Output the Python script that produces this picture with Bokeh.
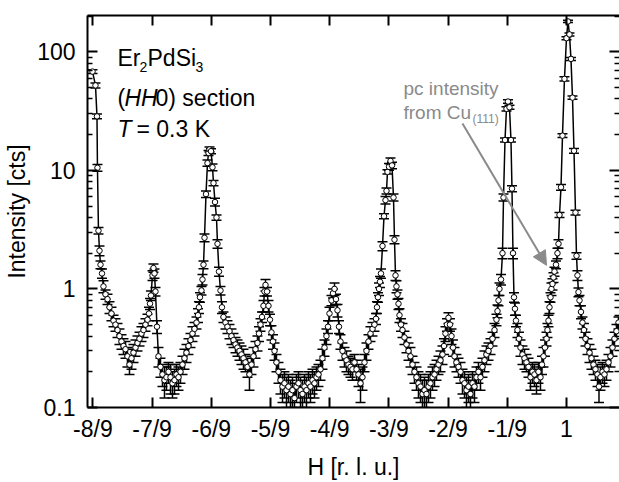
from bokeh.plotting import figure
from bokeh.models import (ColumnDataSource, Whisker, TeeHead, FixedTicker, LinearAxis, LogAxis,
                          CustomJSTickFormatter, Label, Arrow, NormalHead, Range1d)
from bokeh.embed import file_html
from bokeh.resources import INLINE

FONT = "Liberation Sans"
GRAY = "#8a8a8a"

# ---- data: H [r.l.u.], intensity [cts], error [cts] ----
h = [
    -0.8896, -0.8840, -0.8812, -0.8803, -0.8784, -0.8765, -0.8746, -0.8718, -0.8690, -0.8652,
    -0.8615, -0.8577, -0.8540, -0.8502, -0.8465, -0.8427, -0.8390, -0.8352, -0.8315, -0.8277,
    -0.8240, -0.8202, -0.8164, -0.8127, -0.8089, -0.8052, -0.8014, -0.7977, -0.7939, -0.7902,
    -0.7864, -0.7836, -0.7817, -0.7799, -0.7770, -0.7752, -0.7733, -0.7714, -0.7686, -0.7658,
    -0.7620, -0.7583, -0.7545, -0.7508, -0.7470, -0.7432, -0.7395, -0.7357, -0.7320, -0.7282,
    -0.7245, -0.7207, -0.7170, -0.7132, -0.7095, -0.7057, -0.7020, -0.6982, -0.6944, -0.6916,
    -0.6898, -0.6879, -0.6851, -0.6832, -0.6813, -0.6794, -0.6766, -0.6738, -0.6719, -0.6700,
    -0.6672, -0.6644, -0.6625, -0.6597, -0.6569, -0.6550, -0.6522, -0.6494, -0.6466, -0.6438,
    -0.6400, -0.6363, -0.6325, -0.6288, -0.6250, -0.6212, -0.6175, -0.6137, -0.6100, -0.6062,
    -0.6025, -0.5987, -0.5950, -0.5912, -0.5875, -0.5837, -0.5800, -0.5771, -0.5743, -0.5715,
    -0.5687, -0.5668, -0.5649, -0.5621, -0.5593, -0.5565, -0.5537, -0.5509, -0.5480, -0.5443,
    -0.5405, -0.5368, -0.5330, -0.5293, -0.5255, -0.5218, -0.5180, -0.5143, -0.5105, -0.5068,
    -0.5030, -0.4992, -0.4955, -0.4917, -0.4880, -0.4842, -0.4805, -0.4767, -0.4730, -0.4692,
    -0.4655, -0.4617, -0.4580, -0.4542, -0.4505, -0.4476, -0.4448, -0.4411, -0.4382, -0.4354,
    -0.4326, -0.4298, -0.4270, -0.4242, -0.4204, -0.4167, -0.4129, -0.4092, -0.4054, -0.4017,
    -0.3979, -0.3941, -0.3904, -0.3866, -0.3829, -0.3791, -0.3754, -0.3716, -0.3679, -0.3641,
    -0.3604, -0.3575, -0.3557, -0.3538, -0.3519, -0.3500, -0.3482, -0.3453, -0.3425, -0.3397,
    -0.3378, -0.3360, -0.3331, -0.3303, -0.3275, -0.3247, -0.3228, -0.3209, -0.3191, -0.3172,
    -0.3153, -0.3134, -0.3106, -0.3078, -0.3041, -0.3003, -0.2965, -0.2928, -0.2890, -0.2853,
    -0.2815, -0.2778, -0.2740, -0.2703, -0.2665, -0.2628, -0.2590, -0.2553, -0.2515, -0.2477,
    -0.2440, -0.2402, -0.2365, -0.2327, -0.2299, -0.2271, -0.2243, -0.2215, -0.2187, -0.2158,
    -0.2130, -0.2102, -0.2065, -0.2027, -0.1989, -0.1952, -0.1914, -0.1877, -0.1839, -0.1802,
    -0.1764, -0.1727, -0.1689, -0.1652, -0.1614, -0.1577, -0.1539, -0.1502, -0.1464, -0.1426,
    -0.1389, -0.1351, -0.1314, -0.1295, -0.1276, -0.1258, -0.1229, -0.1201, -0.1182, -0.1154,
    -0.1126, -0.1098, -0.1070, -0.1042, -0.1023, -0.1004, -0.0985, -0.0967, -0.0948, -0.0920,
    -0.0892, -0.0863, -0.0826, -0.0788, -0.0751, -0.0713, -0.0676, -0.0638, -0.0601, -0.0563,
    -0.0526, -0.0488, -0.0460, -0.0432, -0.0404, -0.0375, -0.0357, -0.0338, -0.0319, -0.0300,
    -0.0282, -0.0263, -0.0244, -0.0225, -0.0197, -0.0169, -0.0150, -0.0131, -0.0103, -0.0075,
    -0.0038, 0.0000, 0.0028, 0.0056, 0.0084, 0.0113, 0.0141, 0.0169, 0.0188, 0.0206,
    0.0225, 0.0244, 0.0272, 0.0300, 0.0328, 0.0357, 0.0394, 0.0432, 0.0469, 0.0507,
    0.0544, 0.0582, 0.0610, 0.0638, 0.0676, 0.0713, 0.0751, 0.0788, 0.0826, 0.0863,
    0.0901, 0.0938, 0.0976,
]
intensity = [
    68, 52, 28.5, 10.5, 3.1, 2.1, 1.6, 1.35, 1.05, 0.9,
    0.82, 0.7, 0.62, 0.54, 0.5, 0.45, 0.4, 0.36, 0.33, 0.31,
    0.27, 0.23, 0.26, 0.29, 0.32, 0.35, 0.38, 0.42, 0.45, 0.5,
    0.55, 0.62, 0.75, 0.88, 1.3, 1.5, 1.35, 0.95, 0.48, 0.27,
    0.22, 0.19, 0.17, 0.18, 0.2, 0.18, 0.16, 0.17, 0.19, 0.18,
    0.2, 0.23, 0.26, 0.29, 0.33, 0.37, 0.42, 0.46, 0.52, 0.6,
    0.7, 0.85, 0.97, 1.2, 1.6, 2.7, 6.3, 11.5, 14, 15,
    14.5, 10.6, 7.8, 5.4, 4.0, 2.4, 1.4, 0.97, 0.7, 0.58,
    0.52, 0.48, 0.44, 0.4, 0.37, 0.34, 0.32, 0.3, 0.28, 0.26,
    0.24, 0.22, 0.19, 0.23, 0.27, 0.31, 0.35, 0.42, 0.5, 0.58,
    0.72, 0.95, 1.08, 0.95, 0.72, 0.55, 0.43, 0.36, 0.3, 0.24,
    0.2, 0.17, 0.15, 0.16, 0.14, 0.15, 0.13, 0.14, 0.12, 0.15,
    0.16, 0.14, 0.13, 0.15, 0.14, 0.16, 0.15, 0.17, 0.16, 0.18,
    0.19, 0.21, 0.26, 0.32, 0.4, 0.48, 0.62, 0.8, 0.92, 1.0,
    0.82, 0.66, 0.48, 0.36, 0.3, 0.27, 0.25, 0.23, 0.22, 0.21,
    0.24, 0.21, 0.19, 0.16, 0.18, 0.24, 0.3, 0.36, 0.42, 0.46,
    0.5, 0.56, 0.7, 0.85, 1.0, 1.15, 1.35, 2.3, 4.1, 5.6,
    6.7, 9.7, 10.7, 12, 11, 5.9, 2.6, 1.3, 1.05, 0.9,
    0.75, 0.6, 0.5, 0.45, 0.39, 0.34, 0.3, 0.27, 0.23, 0.2,
    0.18, 0.16, 0.15, 0.13, 0.14, 0.13, 0.15, 0.16, 0.18, 0.19,
    0.21, 0.23, 0.25, 0.28, 0.33, 0.42, 0.5, 0.57, 0.5, 0.4,
    0.32, 0.27, 0.24, 0.22, 0.2, 0.17, 0.16, 0.14, 0.15, 0.13,
    0.16, 0.15, 0.18, 0.2, 0.18, 0.22, 0.25, 0.28, 0.3, 0.33,
    0.38, 0.45, 0.55, 0.65, 0.8, 1.0, 1.2, 2.0, 5.9, 18,
    33, 38, 34, 18, 7, 2.0, 0.85, 0.68, 0.54, 0.45,
    0.38, 0.32, 0.28, 0.26, 0.24, 0.22, 0.18, 0.2, 0.19, 0.17,
    0.2, 0.18, 0.23, 0.27, 0.32, 0.38, 0.45, 0.54, 0.7, 0.85,
    1.0, 1.1, 1.25, 1.4, 1.6, 2.0, 2.4, 4.2, 7.2, 19.6,
    59, 130, 180, 140, 87, 41, 14.6, 4.4, 1.9, 1.3,
    0.94, 0.8, 0.64, 0.52, 0.45, 0.38, 0.33, 0.29, 0.26, 0.23,
    0.21, 0.19, 0.15, 0.18, 0.2, 0.19, 0.21, 0.24, 0.27, 0.32,
    0.38, 0.44, 0.52,
]
err = [
    2.5, 2.5, 1.3, 0.7, 0.2, 0.2, 0.12, 0.12, 0.12, 0.08,
    0.08, 0.08, 0.08, 0.06, 0.06, 0.06, 0.06, 0.05, 0.05, 0.05,
    0.05, 0.04, 0.05, 0.05, 0.05, 0.05, 0.05, 0.06, 0.06, 0.06,
    0.06, 0.08, 0.08, 0.08, 0.12, 0.12, 0.12, 0.08, 0.06, 0.05,
    0.04, 0.04, 0.05, 0.04, 0.04, 0.05, 0.04, 0.04, 0.04, 0.04,
    0.04, 0.04, 0.05, 0.05, 0.05, 0.05, 0.06, 0.06, 0.06, 0.08,
    0.08, 0.08, 0.08, 0.12, 0.12, 0.2, 0.4, 0.7, 0.7, 0.7,
    0.7, 0.7, 0.4, 0.4, 0.2, 0.2, 0.12, 0.08, 0.08, 0.06,
    0.06, 0.06, 0.06, 0.06, 0.05, 0.05, 0.05, 0.05, 0.05, 0.05,
    0.04, 0.04, 0.05, 0.04, 0.05, 0.05, 0.05, 0.06, 0.06, 0.06,
    0.08, 0.08, 0.12, 0.08, 0.08, 0.06, 0.06, 0.05, 0.05, 0.04,
    0.04, 0.04, 0.04, 0.04, 0.04, 0.04, 0.04, 0.04, 0.04, 0.04,
    0.04, 0.04, 0.04, 0.04, 0.04, 0.04, 0.04, 0.04, 0.04, 0.04,
    0.04, 0.04, 0.05, 0.05, 0.06, 0.06, 0.08, 0.08, 0.08, 0.12,
    0.08, 0.08, 0.06, 0.05, 0.05, 0.05, 0.05, 0.04, 0.04, 0.04,
    0.04, 0.04, 0.04, 0.05, 0.04, 0.04, 0.05, 0.05, 0.06, 0.06,
    0.06, 0.06, 0.08, 0.08, 0.12, 0.12, 0.12, 0.2, 0.2, 0.4,
    0.4, 0.4, 0.7, 0.7, 0.7, 0.4, 0.2, 0.12, 0.12, 0.08,
    0.08, 0.08, 0.06, 0.06, 0.05, 0.05, 0.05, 0.05, 0.04, 0.04,
    0.04, 0.04, 0.04, 0.04, 0.04, 0.04, 0.04, 0.04, 0.04, 0.04,
    0.04, 0.04, 0.05, 0.05, 0.05, 0.06, 0.06, 0.06, 0.06, 0.06,
    0.05, 0.05, 0.04, 0.04, 0.04, 0.04, 0.04, 0.04, 0.04, 0.04,
    0.04, 0.04, 0.04, 0.04, 0.04, 0.04, 0.05, 0.05, 0.05, 0.05,
    0.05, 0.06, 0.06, 0.08, 0.08, 0.12, 0.12, 0.2, 0.4, 0.7,
    1.3, 1.3, 1.3, 0.7, 0.4, 0.2, 0.08, 0.08, 0.06, 0.06,
    0.05, 0.05, 0.05, 0.05, 0.04, 0.04, 0.04, 0.04, 0.04, 0.04,
    0.04, 0.04, 0.04, 0.05, 0.05, 0.05, 0.06, 0.06, 0.08, 0.08,
    0.12, 0.12, 0.12, 0.12, 0.12, 0.2, 0.2, 0.2, 0.4, 0.7,
    2.5, 4, 4, 4, 2.5, 1.3, 0.7, 0.2, 0.12, 0.12,
    0.08, 0.08, 0.08, 0.06, 0.06, 0.05, 0.05, 0.05, 0.05, 0.04,
    0.04, 0.04, 0.04, 0.04, 0.04, 0.04, 0.04, 0.04, 0.05, 0.05,
    0.05, 0.06, 0.06,
]

x_tick_ninths = [-8, -7, -6, -5, -4, -3, -2, -1, 0]
x_tick_labels = ["-8/9", "-7/9", "-6/9", "-5/9", "-4/9", "-3/9", "-2/9", "-1/9", "1"]
y_ticks = [0.1, 1, 10, 100]
y_tick_labels = ["0.1", "1", "10", "100"]

# arrow annotation (data coords)
arrow_start = (-0.1952, 24.8)
arrow_end = (-0.0375, 1.58)

n = min(len(h), len(intensity), len(err))
h, intensity, err = h[:n], intensity[:n], err[:n]
src = ColumnDataSource(dict(
    h=h, i=intensity,
    lo=[v - e for v, e in zip(intensity, err)],
    hi=[v + e for v, e in zip(intensity, err)],
))

W, H = 619, 482
FL, FT, FB = 87, 15, 407

p = figure(width=W, height=H, y_axis_type="log",
           x_range=Range1d(-0.8990, 0.0995), y_range=Range1d(0.1, 202),
           output_backend="svg", toolbar_location=None,
           min_border_left=FL, min_border_right=0, min_border_top=FT,
           min_border_bottom=H - FB)
p.outline_line_color = None
p.xgrid.visible = False
p.ygrid.visible = False
p.background_fill_color = "white"
p.border_fill_color = "white"

xt = FixedTicker(ticks=[k / 9 for k in x_tick_ninths], minor_ticks=[])
yt_minor = [t * m for t in y_ticks for m in range(2, 10)]
yt = FixedTicker(ticks=y_ticks, minor_ticks=yt_minor)

xfmt = CustomJSTickFormatter(args=dict(labels=x_tick_labels, ninths=x_tick_ninths), code="""
const k = Math.round(tick*9); const i = ninths.indexOf(k); return i >= 0 ? labels[i] : '';
""")
yfmt = CustomJSTickFormatter(args=dict(labels=y_tick_labels, vals=y_ticks), code="""
for (let j = 0; j < vals.length; j++) { if (Math.abs(Math.log10(tick) - Math.log10(vals[j])) < 1e-6) return labels[j]; }
return '';
""")
nofmt = CustomJSTickFormatter(code="return '';")

def style_axis(ax):
    ax.axis_line_width = 2
    ax.axis_line_color = "black"
    ax.major_tick_in = 10
    ax.major_tick_out = 0
    ax.major_tick_line_width = 2
    ax.minor_tick_in = 5
    ax.minor_tick_out = 0
    ax.minor_tick_line_width = 1.5
    ax.major_label_text_font = FONT
    ax.major_label_text_font_size = "23px"
    ax.major_label_text_color = "black"
    ax.axis_label_text_font = FONT
    ax.axis_label_text_font_style = "normal"
    ax.axis_label_text_font_size = "23px"
    ax.axis_label_text_color = "black"

xa = p.xaxis[0]
xa.ticker = xt
xa.formatter = xfmt
style_axis(xa)
xa.major_label_standoff = 8
xa.axis_label = "H [r. l. u.]"
xa.axis_label_standoff = 9

ya = p.yaxis[0]
ya.ticker = yt
ya.formatter = yfmt
style_axis(ya)
ya.major_label_standoff = 12
ya.axis_label = "Intensity [cts]"
ya.axis_label_standoff = 4

top = LinearAxis(ticker=xt, formatter=nofmt)
style_axis(top)
top.major_label_standoff = 0
p.add_layout(top, "above")

right = LogAxis(ticker=yt, formatter=nofmt)
style_axis(right)
right.axis_line_color = None
right.major_label_standoff = 0
p.add_layout(right, "right")

# data
p.add_layout(Whisker(source=src, base="h", lower="lo", upper="hi", dimension="height",
                     line_color="black", line_width=1.5,
                     lower_head=TeeHead(size=10, line_color="black", line_width=1.5),
                     upper_head=TeeHead(size=10, line_color="black", line_width=1.5)))
p.line("h", "i", source=src, line_color="black", line_width=1.5)
p.scatter("h", "i", source=src, marker="circle", size=5.5, fill_color="white",
          line_color="black", line_width=1)

# annotations (screen units relative to frame bottom-left)
def lab(text, px, py, size="23px", style="normal", color="black"):
    p.add_layout(Label(x=px - FL, y=FB - py, x_units="screen", y_units="screen", text=text,
                       text_font=FONT, text_font_size=size, text_font_style=style,
                       text_color=color, text_baseline="alphabetic", text_align="left"))

lab("Er", 117, 57)
lab("2", 139, 66, size="14px")
lab("PdSi", 147, 57)
lab("3", 195, 66, size="14px")
lab("(", 117, 97)
lab("HH", 124, 97, style="italic")
lab("0) section", 155, 97)
lab("T", 117, 128, style="italic")
lab("= 0.3 K", 136, 128)

lab("pc intensity", 403, 88, size="19px", color=GRAY)
lab("from Cu", 403, 112, size="19px", color=GRAY)
lab("(111)", 472, 118, size="12px", color=GRAY)

p.add_layout(Arrow(x_start=arrow_start[0], y_start=arrow_start[1],
                   x_end=arrow_end[0], y_end=arrow_end[1],
                   line_color=GRAY, line_width=2,
                   end=NormalHead(size=14, fill_color=GRAY, line_color=GRAY)))

open("out.html", "w").write(file_html(p, INLINE))
